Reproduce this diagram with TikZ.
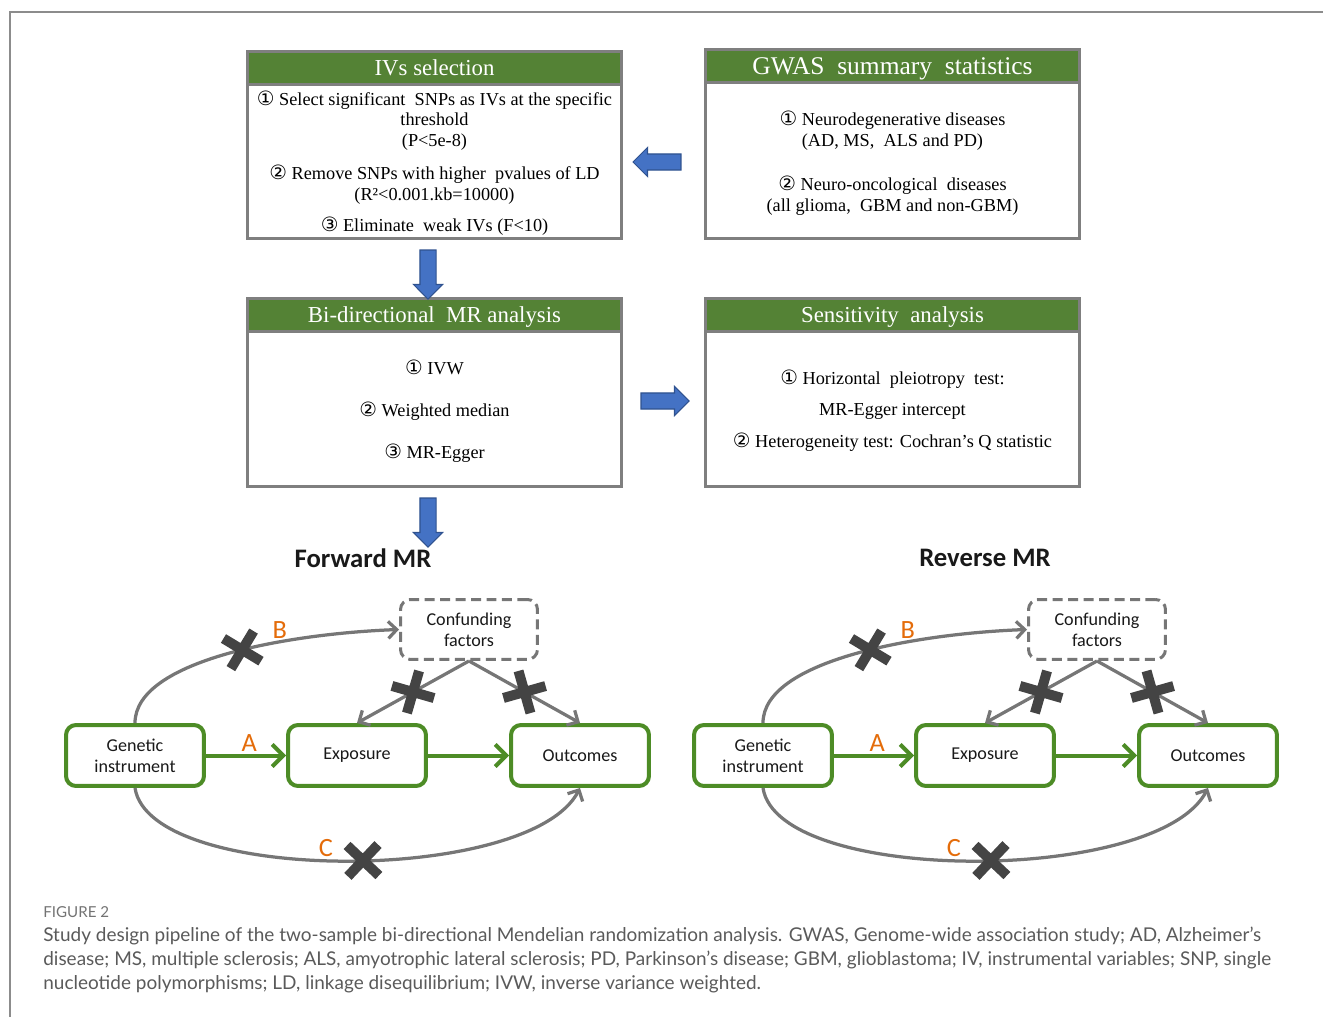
\documentclass[tikz,border=0pt]{standalone}
\usepackage{fontspec}
\setmainfont{Liberation Serif}
\newfontfamily\circfont{DejaVu Sans}[Scale=1.08]
\newfontfamily\diagfont{Carlito}
\newfontfamily\capfont{Lato}
\usetikzlibrary{positioning,calc,arrows.meta,shapes.arrows,shapes.misc}

\definecolor{boxgray}{RGB}{127,127,127}
\definecolor{headgreen}{RGB}{84,130,53}
\definecolor{arrowblue}{RGB}{68,114,196}
\definecolor{arrowedge}{RGB}{47,82,143}
\definecolor{linkgreen}{RGB}{77,140,38}
\definecolor{linkgray}{RGB}{118,118,118}
\definecolor{crossgray}{RGB}{68,68,68}
\definecolor{labelorange}{RGB}{228,108,10}
\definecolor{textdark}{RGB}{25,25,25}
\definecolor{capgray}{RGB}{90,90,90}
\definecolor{framegray}{RGB}{140,140,140}

\newcommand{\cnum}[1]{{\circfont #1}}

\tikzset{
  panel/.style={draw=boxgray, line width=0.06cm, minimum width=7.48cm,
    minimum height=3.74cm, inner sep=0pt},
  panelhead/.style={draw=boxgray, fill=headgreen, line width=0.06cm,
    anchor=north, minimum width=7.48cm, minimum height=0.65cm, inner sep=0pt,
    text height=8.6pt, text depth=0pt,
    text=white, font=\fontsize{13}{13}\selectfont},
  paneltext/.style={align=center, inner sep=0pt,
    font=\fontsize{10.4}{11.9}\selectfont},
  blockarrow/.style={single arrow, draw=arrowedge, fill=arrowblue,
    line width=0.6pt, inner sep=0.15cm, single arrow head extend=0.13cm,
    minimum height=0.96cm},
  mrtitle/.style={font=\diagfont\bfseries\fontsize{15.2}{18}\selectfont,
    inner sep=0pt, text=textdark},
  gbox/.style={draw=linkgreen, line width=0.08cm, rounded corners=0.2cm,
    minimum width=2.76cm, minimum height=1.22cm, align=center, inner sep=0pt,
    text=textdark, font=\diagfont\fontsize{10.3}{12}\selectfont},
  confbox/.style={draw=linkgray, line width=0.06cm,
    dash pattern=on 0.2cm off 0.11cm, rounded corners=0.2cm,
    minimum width=2.74cm, minimum height=1.2cm, align=center, inner sep=0pt,
    text=textdark, font=\diagfont\fontsize{10.3}{12}\selectfont},
  greenlink/.style={draw=linkgreen, line width=0.08cm,
    -{Straight Barb[length=0.22cm, width=0.44cm]}},
  graylink/.style={draw=linkgray, line width=0.065cm,
    -{Straight Barb[length=0.17cm, width=0.34cm]}},
  xcross/.style={cross out, draw=crossgray, line width=0.2cm,
    minimum size=0.42cm, inner sep=0pt, arrows=-, solid},
  lbl/.style={text=labelorange, inner sep=0pt,
    font=\diagfont\fontsize{15}{15}\selectfont},
  captext/.style={inner sep=0pt, align=left, text=capgray,
    font=\capfont\fontsize{10.8}{13.6}\selectfont}
}

\begin{document}
\begin{tikzpicture}[x=0.02cm, y=-0.02cm]
\useasboundingbox (0,0) rectangle (1323,1017);
% page frame
\draw[framegray, line width=0.03cm] (10,1017) -- (10,12) -- (1323,12);

% pipeline panels
\node[panel] (ivs) at (434.5,145) {};
\node[panelhead] (ivs-head) at (ivs.north) {IVs selection};
\node[paneltext] (ivs-body) at (434.5,163) {\cnum{①} Select significant\ \ SNPs as IVs at the specific\\
  threshold\\ (P<5e-8)\\[0.24cm]
  \cnum{②} Remove SNPs with higher\ \ pvalues of LD\\ (R²<0.001.kb=10000)\\[0.2cm]
  \cnum{③} Eliminate\ \ weak IVs (F<10)};

\node[panel, minimum height=3.78cm] (gwas) at (892.5,144) {};
\node[panelhead, text height=9.6pt, font=\fontsize{14.5}{14.5}\selectfont] (gwas-head)
  at (gwas.north) {GWAS\ \ summary\ \ statistics};
\node[paneltext] (gwas-body) at (892.5,163) {\cnum{①} Neurodegenerative diseases\\
  (AD, MS,\ \ ALS and PD)\\[0.46cm]
  \cnum{②} Neuro-oncological\ \ diseases\\ (all glioma,\ \ GBM and non-GBM)};

\node[panel, minimum height=3.76cm] (mr) at (434.5,392.5) {};
\node[panelhead] (mr-head) at (mr.north) {Bi-directional\ \ MR analysis};
\node[paneltext] (mr-body) at (434.5,411) {\cnum{①} IVW\\[0.42cm]
  \cnum{②} Weighted median\\[0.42cm] \cnum{③} MR-Egger};

\node[panel, minimum height=3.76cm] (sens) at (892.5,392.5) {};
\node[panelhead] (sens-head) at (sens.north) {Sensitivity\ \ analysis};
\node[paneltext] (sens-body) at (892.5,410.5) {\cnum{①} Horizontal\ \ pleiotropy\ \ test:\\[0.21cm]
  MR-Egger intercept\\[0.21cm]
  \cnum{②} Heterogeneity test: Cochran’s Q statistic};

% block arrows
\node[blockarrow, shape border rotate=180] (to-ivs) at (661,162) {};
\node[blockarrow, shape border rotate=270, minimum height=0.98cm] (to-mr) at (428,270.5) {};
\node[blockarrow] (to-sens) at (661,401) {};
\node[blockarrow, shape border rotate=270, minimum height=0.98cm] (to-dag) at (428,518.5) {};

% forward and reverse MR
\foreach \p/\dx/\tx/\heading in {f/0/363/Forward MR, r/628/985/Reverse MR}{
  \node[mrtitle] (\p-title) at (\tx,558) {\heading};
  \node[gbox] (\p-gen) at (\dx+135,755.5) {Genetic\\instrument};
  \node[gbox] (\p-exp) at (\dx+357,755.5) {Exposure};
  \node[gbox] (\p-out) at (\dx+580,755.5) {Outcomes};
  \node[confbox] (\p-conf) at (\dx+469,629.5) {Confunding\\factors};
  \draw[greenlink] (\p-gen) -- node[lbl, pos=0.54, above=1pt] (\p-a) {A} (\p-exp);
  \draw[greenlink] (\p-exp) -- (\p-out);
  \draw[graylink] (\p-gen.north)
    .. controls ($(\p-gen.north)+(0,-63)$) and ($(\p-conf.west)+(-109,4)$) .. (\p-conf.west)
    node[xcross, pos=0.55, sloped] (\p-xb) {}
    node[lbl, pos=0.66, above=1pt] (\p-b) {B};
  \draw[graylink] (\p-conf.south) -- node[xcross, sloped] (\p-xe) {} (\p-exp.north);
  \draw[graylink] (\p-conf.south) -- node[xcross, sloped] (\p-xo) {} (\p-out.north);
  \draw[graylink] (\p-gen.south)
    .. controls ($(\p-gen.south)+(15,97)$) and ($(\p-out.south)+(-50,97)$) .. (\p-out.south)
    node[xcross, pos=0.53, sloped] (\p-xc) {}
    node[lbl, pos=0.47, above=1pt] (\p-c) {C};
}

% caption
\node[captext, anchor=base west, text=capgray!85, font=\capfont\fontsize{8.6}{10}\selectfont]
  (cap-head) at (43,917) {FIGURE 2};
\node[captext, anchor=north west] (cap-body) at (43,927)
  {Study design pipeline of the two-sample bi-directional Mendelian randomization analysis. GWAS, Genome-wide association study; AD, Alzheimer’s\\
  disease; MS, multiple sclerosis; ALS, amyotrophic lateral sclerosis; PD, Parkinson’s disease; GBM, glioblastoma; IV, instrumental variables; SNP, single\\
  nucleotide polymorphisms; LD, linkage disequilibrium; IVW, inverse variance weighted.};
\end{tikzpicture}
\end{document}
